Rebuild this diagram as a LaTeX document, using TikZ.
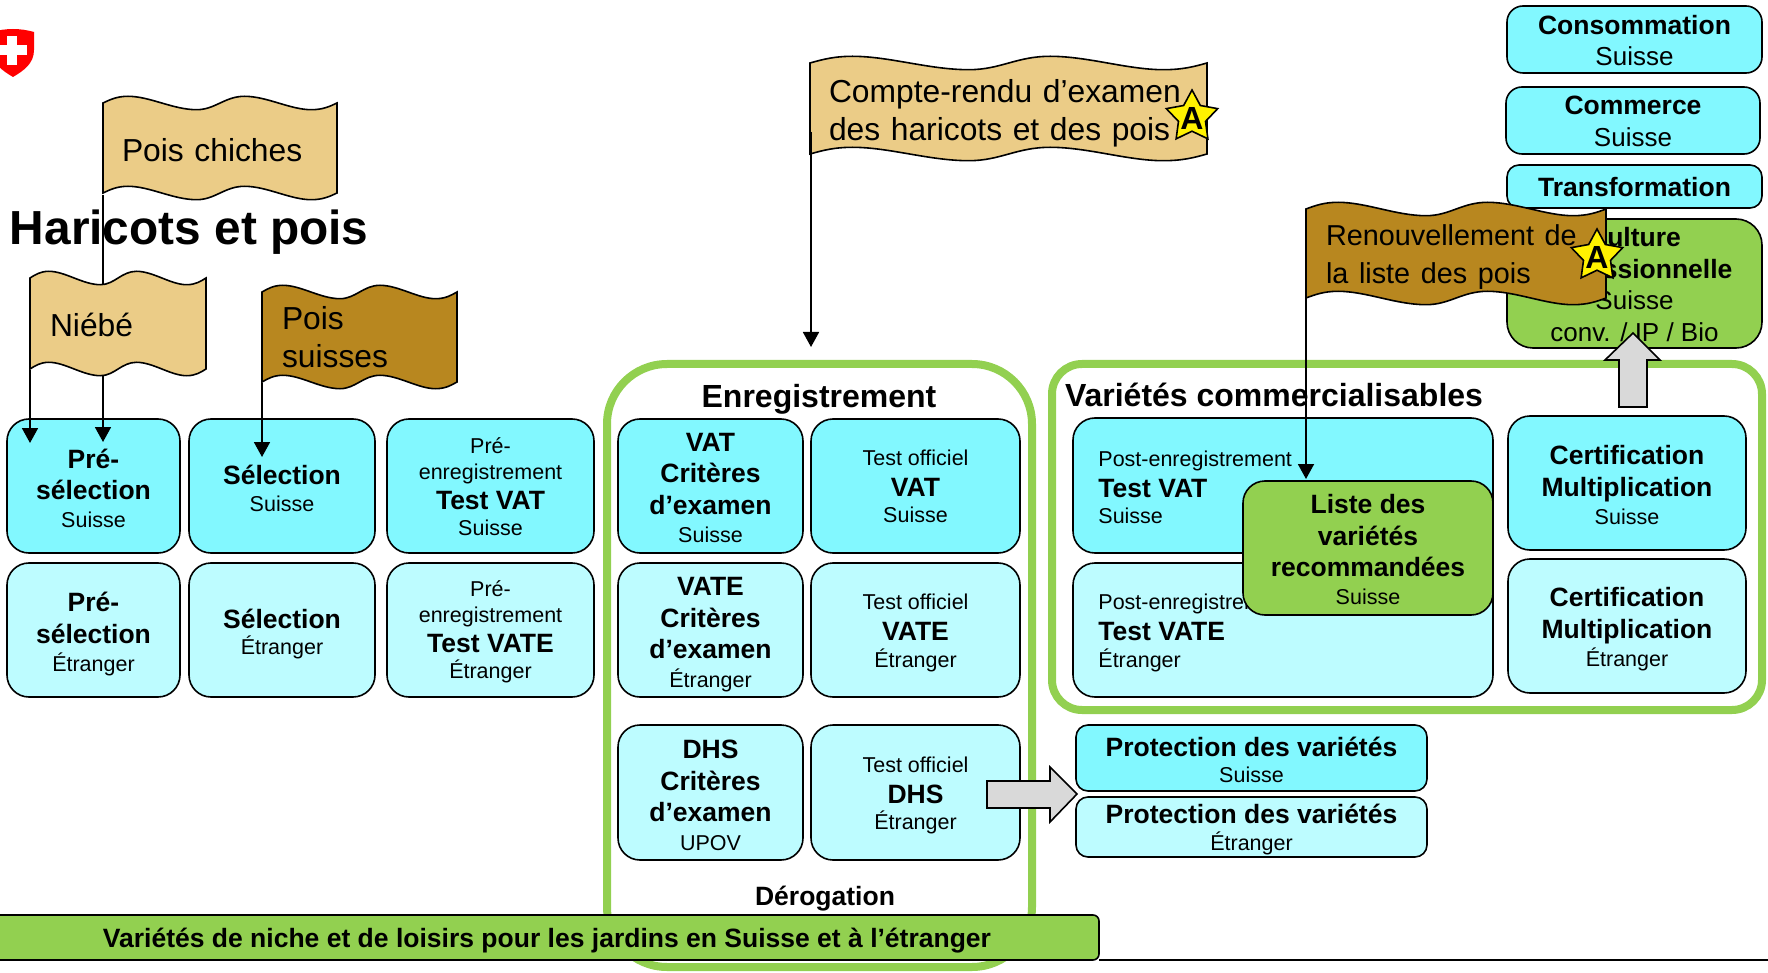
\documentclass[tikz,border=0pt]{standalone}
\usepackage{fontspec}
\setmainfont{Liberation Sans}
\usetikzlibrary{arrows.meta,shapes.geometric}
\definecolor{cyanA}{HTML}{82F8FF}
\definecolor{cyanB}{HTML}{BDFCFF}
\definecolor{greenA}{HTML}{92D050}
\definecolor{tanA}{HTML}{EBCC87}
\definecolor{brownA}{HTML}{B8871F}
\definecolor{greyA}{HTML}{D9D9D9}
\newcommand{\Bd}[1]{{\fontsize{13.25}{15.8}\selectfont\bfseries #1}}
\newcommand{\Rg}[1]{{\fontsize{13}{15.8}\selectfont #1}}
\tikzset{
  boxst/.style={draw=black,line width=.8pt,inner sep=0pt,outer sep=0pt,
    rounded corners=11pt},
  boxtext/.style={inner sep=0pt,outer sep=0pt,align=center,font=\fontsize{10.75}{15.8}\selectfont},
  framest/.style={draw=greenA,line width=4pt,inner sep=0pt,outer sep=0pt},
  conn/.style={draw=black,line width=.9pt,-{Triangle[width=8pt,length=7.5pt]}},
  flagline/.style={draw=black,line width=.8pt},
  blockarrow/.style={draw=black,line width=.8pt,fill=greyA,line join=miter},
  titlest/.style={inner sep=0pt,outer sep=0pt,font=\fontsize{16}{19}\selectfont\bfseries},
  flagtext/.style={inner sep=0pt,outer sep=0pt,align=left,font=\fontsize{15.9}{19}\selectfont},
  starst/.style={star,star points=5,star point ratio=1.9,draw=black,line width=.8pt,fill=yellow,
    inner sep=0pt,outer sep=0pt,minimum size=27pt},
  startext/.style={inner sep=0pt,font=\fontsize{16}{16}\selectfont\bfseries}
}
% \bx[options]{name}{x1}{y1}{x2}{y2}{dy}{text}
\newcommand{\bx}[8][]{%
  \pgfmathsetmacro{\bw}{(#5-#3)*.5}\pgfmathsetmacro{\bh}{(#6-#4)*.5}%
  \node[boxst,#1,minimum width=\bw pt,minimum height=\bh pt] (#2) at ({(#3+#5)/2},{(#4+#6)/2}) {};
  \node[boxtext] (#2-t) at ({(#3+#5)/2},{(#4+#6)/2+#7}) {#8};}
\def\flagdy{0pt}
% \flagshape[fill]{name}{x1}{yt}{x2}{yb}{pad}{text}
\newcommand{\flagshape}[8][tanA]{%
  \pgfmathsetmacro{\fa}{#3}\pgfmathsetmacro{\fw}{#5-#3}\pgfmathsetmacro{\ft}{#4}\pgfmathsetmacro{\fb}{#6}%
  \pgfmathsetmacro{\fq}{6.7}%
  \pgfmathsetmacro{\mw}{\fw*.5}\pgfmathsetmacro{\mh}{(\fb-\ft)*.5}\pgfmathsetmacro{\tw}{(\fw-2*#7)*.5}%
  \filldraw[fill=#1,flagline,line join=miter] (\fa,\ft)
    .. controls ({\fa+.03*\fw},{\ft-.5*\fq}) and ({\fa+.06*\fw},{\ft-\fq}) .. ({\fa+.107*\fw},{\ft-\fq})
    .. controls ({\fa+.2*\fw},{\ft-\fq}) and ({\fa+.3*\fw},{\ft+\fq}) .. ({\fa+.4*\fw},{\ft+\fq})
    .. controls ({\fa+.48*\fw},{\ft+\fq}) and ({\fa+.52*\fw},{\ft-\fq}) .. ({\fa+.605*\fw},{\ft-\fq})
    .. controls ({\fa+.7*\fw},{\ft-\fq}) and ({\fa+.8*\fw},{\ft+\fq}) .. ({\fa+.89*\fw},{\ft+\fq})
    .. controls ({\fa+.94*\fw},{\ft+\fq}) and ({\fa+.97*\fw},{\ft+.5*\fq}) .. ({\fa+\fw},\ft)
    -- ({\fa+\fw},\fb)
    .. controls ({\fa+.97*\fw},{\fb+.5*\fq}) and ({\fa+.94*\fw},{\fb+\fq}) .. ({\fa+.89*\fw},{\fb+\fq})
    .. controls ({\fa+.8*\fw},{\fb+\fq}) and ({\fa+.7*\fw},{\fb-\fq}) .. ({\fa+.605*\fw},{\fb-\fq})
    .. controls ({\fa+.52*\fw},{\fb-\fq}) and ({\fa+.48*\fw},{\fb+\fq}) .. ({\fa+.4*\fw},{\fb+\fq})
    .. controls ({\fa+.3*\fw},{\fb+\fq}) and ({\fa+.2*\fw},{\fb-\fq}) .. ({\fa+.107*\fw},{\fb-\fq})
    .. controls ({\fa+.06*\fw},{\fb-\fq}) and ({\fa+.03*\fw},{\fb-.5*\fq}) .. (\fa,\fb) -- cycle;
  \node[flagtext,minimum width=\mw pt,minimum height=\mh pt,text width=\tw pt,yshift=\flagdy] (#2) at ({\fa+\fw/2},{(\ft+\fb)/2}) {#8};}
\begin{document}
\begin{tikzpicture}[x=.5pt,y=-.5pt]
\useasboundingbox (0,0) rectangle (1768,973);
\clip (0,0) rectangle (1768,973);
% shield
\fill[red] (34,32) .. controls (20,28) and (6,28) .. (-8,32) -- (-8,50)
  .. controls (-8,64) and (3,71) .. (13,77) .. controls (23,71) and (34,64) .. (34,50) -- cycle;
\fill[white] (7,36) rectangle (17,65);
\fill[white] (-2,45) rectangle (27,55);
% frames
\bx[framest,rounded corners=30pt]{fenr}{607}{364}{1032}{967}{0}{}
\bx[framest,rounded corners=15pt]{fvar}{1052}{364}{1762}{710}{0}{}
% left boxes
\bx[fill=cyanA]{psA}{7}{419}{180}{553}{2}{\Bd{Pré-}\\\Bd{sélection}\\[-2pt]Suisse}
\bx[fill=cyanA]{selA}{189}{419}{375}{553}{2.5}{\Bd{Sélection}\\[-2.5pt]Suisse}
\bx[fill=cyanA]{peA}{387}{419}{594}{553}{.5}{Pré-\\[-3pt]enregistrement\\[-.5pt]\Bd{Test VAT}\\[-3pt]Suisse}
\bx[fill=cyanB]{psB}{7}{563}{180}{697}{4}{\Bd{Pré-}\\\Bd{sélection}\\[-2pt]Étranger}
\bx[fill=cyanB]{selB}{189}{563}{375}{697}{4}{\Bd{Sélection}\\[-2.5pt]Étranger}
\bx[fill=cyanB]{peB}{387}{563}{594}{697}{2}{Pré-\\[-3pt]enregistrement\\[-.5pt]\Bd{Test VATE}\\[-3pt]Étranger}
% enregistrement boxes
\node[titlest] (tenr) at (819,399) {Enregistrement};
\bx[fill=cyanA]{vatc}{618}{419}{803}{553}{2}{\Bd{VAT}\\\Bd{Critères}\\\Bd{d’examen}\\[-1.5pt]Suisse}
\bx[fill=cyanA]{vato}{811}{419}{1020}{553}{.5}{Test officiel\\[-.5pt]\Bd{VAT}\\[-2.5pt]Suisse}
\bx[fill=cyanB]{vatec}{618}{563}{803}{697}{4.5}{\Bd{VATE}\\\Bd{Critères}\\\Bd{d’examen}\\[-1.5pt]Étranger}
\bx[fill=cyanB]{vateo}{811}{563}{1020}{697}{3}{Test officiel\\[-.5pt]\Bd{VATE}\\[-2.5pt]Étranger}
\bx[fill=cyanB]{dhsc}{618}{725}{803}{860}{3}{\Bd{DHS}\\\Bd{Critères}\\\Bd{d’examen}\\[-1.5pt]UPOV}
\bx[fill=cyanB]{dhso}{811}{725}{1020}{860}{3}{Test officiel\\[-.5pt]\Bd{DHS}\\[-2.5pt]Étranger}
\node[inner sep=0pt] (derog) at (825,899) {\Bd{Dérogation}};
% protection
\bx[fill=cyanA,rounded corners=6pt]{protA}{1076}{725}{1427}{791}{2}{\Bd{Protection des variétés}\\[-2.5pt]Suisse}
\bx[fill=cyanB,rounded corners=6pt]{protB}{1076}{797}{1427}{857}{2.5}{\Bd{Protection des variétés}\\[-2.5pt]Étranger}
% variétés commercialisables
\node[titlest,anchor=west] (tvar) at (1065,395) {Variétés commercialisables};
\bx[fill=cyanA]{poA}{1073}{418}{1493}{553}{0}{}
\node[inner sep=0pt,anchor=west,align=left,font=\fontsize{10.75}{15.8}\selectfont] (poAt) at (1098,487.5) {Post-enregistrement\\[-.5pt]\Bd{Test VAT}\\[-2.5pt]Suisse};
\bx[fill=cyanB]{poB}{1073}{563}{1493}{697}{0}{}
\node[inner sep=0pt,anchor=west,align=left,font=\fontsize{10.75}{15.8}\selectfont] (poBt) at (1098,633) {Post-enregistrement\\[-.5pt]\Bd{Test VATE}\\[-2.5pt]Étranger};
\bx[fill=cyanA]{ceA}{1508}{416}{1746}{550}{2}{\Bd{Certification}\\\Bd{Multiplication}\\[-2pt]Suisse}
\bx[fill=cyanB]{ceB}{1508}{559}{1746}{693}{3.5}{\Bd{Certification}\\\Bd{Multiplication}\\[-1.5pt]Étranger}
\bx[fill=greenA]{liste}{1243}{481}{1493}{615}{1.5}{\Bd{Liste des}\\\Bd{variétés}\\\Bd{recommandées}\\[-2pt]Suisse}
% top right
\bx[fill=cyanA,rounded corners=8pt]{cons}{1507}{6}{1762}{73}{1}{\Bd{Consommation}\\\Rg{Suisse}}
\bx[fill=cyanA,rounded corners=8pt]{comm}{1506}{87}{1760}{154}{1}{\Bd{Commerce}\\\Rg{Suisse}}
\bx[fill=cyanA,rounded corners=6pt]{trans}{1507}{165}{1762}{208}{1}{\Bd{Transformation}}
\bx[fill=greenA,rounded corners=13pt]{cult}{1507}{219}{1762}{348}{1}{\Bd{Culture}\\\Bd{professionnelle}\\\Rg{Suisse}\\\Rg{conv. / IP / Bio}}
% title
\node[inner sep=0pt,outer sep=0pt,anchor=base west,font=\fontsize{23.9}{28}\selectfont\bfseries] (titre) at (10,245) {Haricots et pois};
% coordinates for connectors
\coordinate (tipA) at (30,443);
\coordinate (tipB) at (103,442);
\coordinate (tipC) at (262,457);
\coordinate (tipD) at (811,347);
\coordinate (tipE) at (1306,479);
\coordinate (startD) at (811,132);
\coordinate (startE) at (1306,264);
\coordinate (lineEnd) at (1768,960);
% pois chiches
\def\flagdy{-1pt}
\flagshape{pc}{103}{103}{337}{193}{19}{Pois chiches}
\draw[conn] (pc.south west) -- (tipB);
% niébé
\def\flagdy{-.5pt}
\flagshape{nb}{30}{278}{206}{369}{20}{Niébé}
\draw[conn] (nb.south west) -- (tipA);
% pois suisses
\def\flagdy{-.3pt}
\flagshape[brownA]{ps}{262}{292}{457}{382}{20}{Pois\\suisses}
\draw[conn] (ps.south west) -- (tipC);
% compte rendu
\def\flagdy{-2.25pt}
\flagshape{cr}{810}{63}{1207}{154}{19}{\mbox{Compte-rendu d’examen}\\\mbox{des haricots et des pois}}
\draw[conn] (startD) -- (tipD);
% star A
\node[starst] (starA) at (1192,117) {};
\node[startext] (starAt) at (1192,118) {A};
% block arrows
\draw[blockarrow] (987,781) -- (1050,781) -- (1050,767) -- (1077,794) -- (1050,822) -- (1050,808) -- (987,808) -- cycle;
\draw[blockarrow] (1619,407) -- (1619,360) -- (1605,360) -- (1633,333) -- (1660,360) -- (1647,360) -- (1647,407) -- cycle;
% renouvellement
\def\flagdy{-2pt}
\flagshape[brownA]{re}{1306}{209}{1606}{298}{20}{\fontsize{14.4}{18}\selectfont\mbox{Renouvellement de}\\\mbox{la liste des pois}}
\draw[conn] (startE) -- (tipE);
\node[starst] (starB) at (1597,256) {};
\node[startext] (starBt) at (1597,257) {A};
% bottom bar
\draw[draw=black,line width=.8pt] (1099,960) -- (lineEnd);
\bx[fill=greenA,rounded corners=3pt]{bar}{-8}{915}{1099}{960}{0}{}
\node[inner sep=0pt] (bart) at (547,941) {\Bd{Variétés de niche et de loisirs pour les jardins en Suisse et à l’étranger}};
\end{tikzpicture}
\end{document}
